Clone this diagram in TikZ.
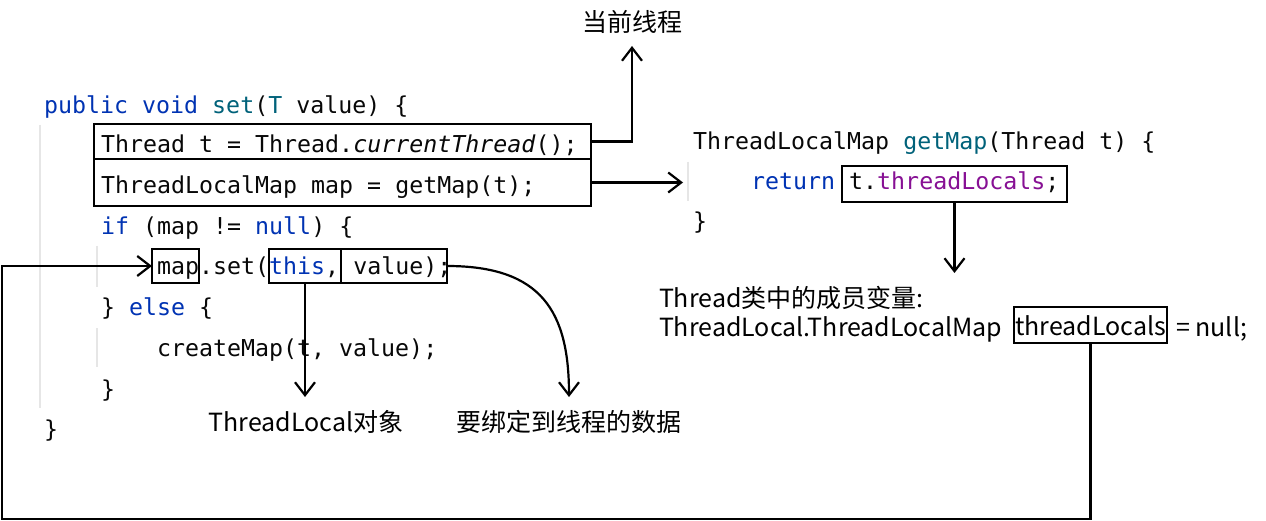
\documentclass[tikz,border=0pt]{standalone}
\usepackage{fontspec}
\setmonofont{DejaVu Sans Mono}
\newfontfamily\lblfont{Noto Sans CJK SC}
\usetikzlibrary{arrows.meta}
\definecolor{codefg}{HTML}{080808}
\definecolor{kwc}{HTML}{0033B3}
\definecolor{fnc}{HTML}{00627A}
\definecolor{fldc}{HTML}{871094}
\definecolor{guidec}{HTML}{E6E6E6}
\newcommand\kwd[1]{\textcolor{kwc}{#1}}
\newcommand\fnm[1]{\textcolor{fnc}{#1}}
\newcommand\fld[1]{\textcolor{fldc}{#1}}
\begin{document}
\begin{tikzpicture}[x=1pt,y=-1pt,
  code/.style={inner sep=0pt, anchor=base west, font=\ttfamily\fontsize{23.26}{28}\selectfont, text=codefg},
  lbl/.style={inner sep=0pt, outer xsep=0pt, outer ysep=12pt, text height=22pt, text depth=2pt, font=\lblfont\fontsize{25}{30}\selectfont, text=black},
  hbox/.style={draw=black, line width=2.3pt, inner sep=0pt, outer sep=0pt},
  conn/.style={line width=2.2pt, -{Straight Barb[length=13pt,width=20pt]}},
  guideln/.style={draw=guidec, line width=2pt}]
\fill[white] (0,0) rectangle (1266,521);
\useasboundingbox (0,0) rectangle (1266,521);

% indent guides
\draw[guideln] (40,125) -- (40,408);
\draw[guideln] (97,246) -- (97,287);
\draw[guideln] (97,328) -- (97,367);
\draw[guideln] (688,162) -- (688,201);

% left code
\node[code] (l1) at (44,114) {\kwd{public} \kwd{void} \fnm{set}(\fnm{T} value) \{};
\node[code] (l2) at (101,153) {Thread t = Thread.\textit{currentThread}();};
\node[code] (l3) at (101,194) {ThreadLocalMap map = getMap(t);};
\node[code] (l4) at (101,235) {\kwd{if} (map != \kwd{null}) \{};
\node[code] (l5) at (157,275) {map.set(\kwd{this}, value);};
\node[code] (l6) at (101,316) {\} \kwd{else} \{};
\node[code] (l7) at (157,356) {createMap(t, value);};
\node[code] (l8) at (101,397) {\}};
\node[code] (l9) at (44,437) {\}};

% right code
\node[code] (r1) at (693,150) {ThreadLocalMap \fnm{getMap}(Thread t) \{};
\node[code] (r2) at (751,190) {\kwd{return} t.\fld{threadLocals};};
\node[code] (r3) at (693,230) {\}};

% highlight boxes
\node[hbox, minimum width=497pt, minimum height=35pt] (b1) at (342.5,141.5) {};
\node[hbox, minimum width=497pt, minimum height=47pt] (b2) at (342.5,182.5) {};
\node[hbox, minimum width=47pt, minimum height=34pt] (mapbox) at (175.5,266) {};
\node[hbox, minimum width=72pt, minimum height=34pt] (thisbox) at (305,266) {};
\node[hbox, minimum width=106pt, minimum height=34pt] (valbox) at (394,266) {};
\node[hbox, minimum width=225pt, minimum height=36pt] (tlbox) at (954.5,184) {};

% labels
\node[lbl] (cur) at (632,22) {当前线程};
\node[lbl, anchor=west] (fl1) at (659,297) {Thread类中的成员变量:};
\node[lbl, anchor=west] (fl2) at (659,326) {ThreadLocal.ThreadLocalMap};
\node[hbox, lbl, outer ysep=0pt, minimum width=153pt, minimum height=36pt] (fbox) at (1090.5,325) {threadLocals};
\node[lbl, anchor=west] (fl3) at (1176,326) {= null;};
\node[lbl] (tlobj) at (306,421) {ThreadLocal对象};
\node[lbl] (data) at (569,421) {要绑定到线程的数据};

\coordinate (gmIn) at (683,182.5);
\coordinate (loopBL) at (2,519);

% connectors
\draw[conn] (b1.east) -| (cur.south);
\draw[conn] (b2.east) -- (gmIn);
\draw[conn] (tlbox.south) -- (tlbox.south |- fl1.north);
\draw[conn] (fbox.south) |- (loopBL) |- (mapbox.west);
\draw[conn] (thisbox.south) -- (thisbox.south |- tlobj.north);
\draw[conn] (valbox.east) .. controls +(95,0) and +(0,-85) .. (data.north);
\end{tikzpicture}
\end{document}
